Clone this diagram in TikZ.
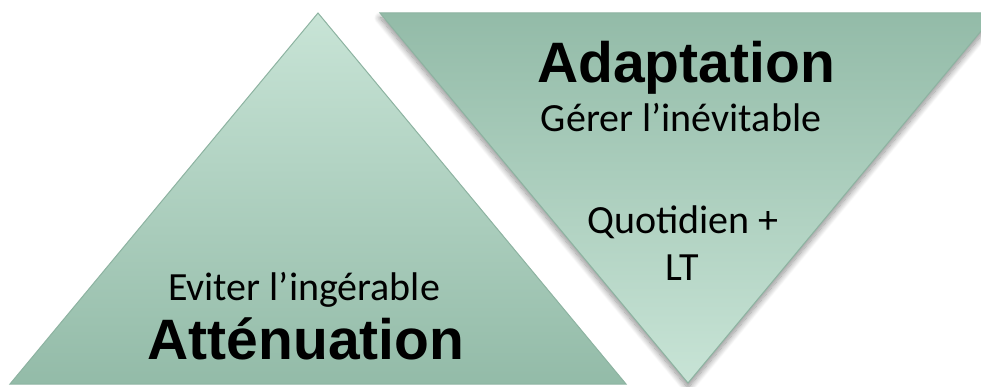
\documentclass[tikz,border=0pt]{standalone}
\usepackage{fontspec}
\setmainfont{Carlito}
\newfontfamily\headfont{Liberation Sans}
\usetikzlibrary{shadows.blur}
\definecolor{lightgreen}{HTML}{C8E4D6}
\definecolor{darkgreen}{HTML}{93BBA8}
\definecolor{edgegreen}{HTML}{8DB3A1}
\tikzset{
  tri/.style={draw=edgegreen, line width=1pt, line join=miter},
  bigtitle/.style={inner sep=0pt, anchor=base, font=\headfont\bfseries\fontsize{57}{60}\selectfont},
  subtext/.style={inner sep=0pt, anchor=base, font=\fontsize{40}{44}\selectfont}
}
\begin{document}
\begin{tikzpicture}[x=1pt,y=1pt]
\useasboundingbox (0,0) rectangle (981,386);
\clip (0,0) rectangle (981,386);
% left triangle (Attenuation)
\path[tri, top color=lightgreen, bottom color=darkgreen] (10,2) -- (318,373) -- (626,2) -- cycle;
% right triangle (Adaptation)
\path[tri, top color=darkgreen, bottom color=lightgreen,
  blur shadow={shadow xshift=0pt, shadow yshift=-5pt, shadow blur radius=6pt, shadow blur steps=12, shadow opacity=45}]
  (380,373) -- (996,373) -- (688,3) -- cycle;
\node[bigtitle] (adapt) at (686,303) {Adaptation};
\node[subtext] (gerer) at (681,254) {Gérer l’inévitable};
\node[subtext] (quot) at (683,153) {Quotidien +};
\node[subtext] (lt) at (682,106) {LT};
\node[subtext] (eviter) at (304,86) {Eviter l’ingérable};
\node[bigtitle] (atten) at (306,27) {Atténuation};
\end{tikzpicture}
\end{document}
